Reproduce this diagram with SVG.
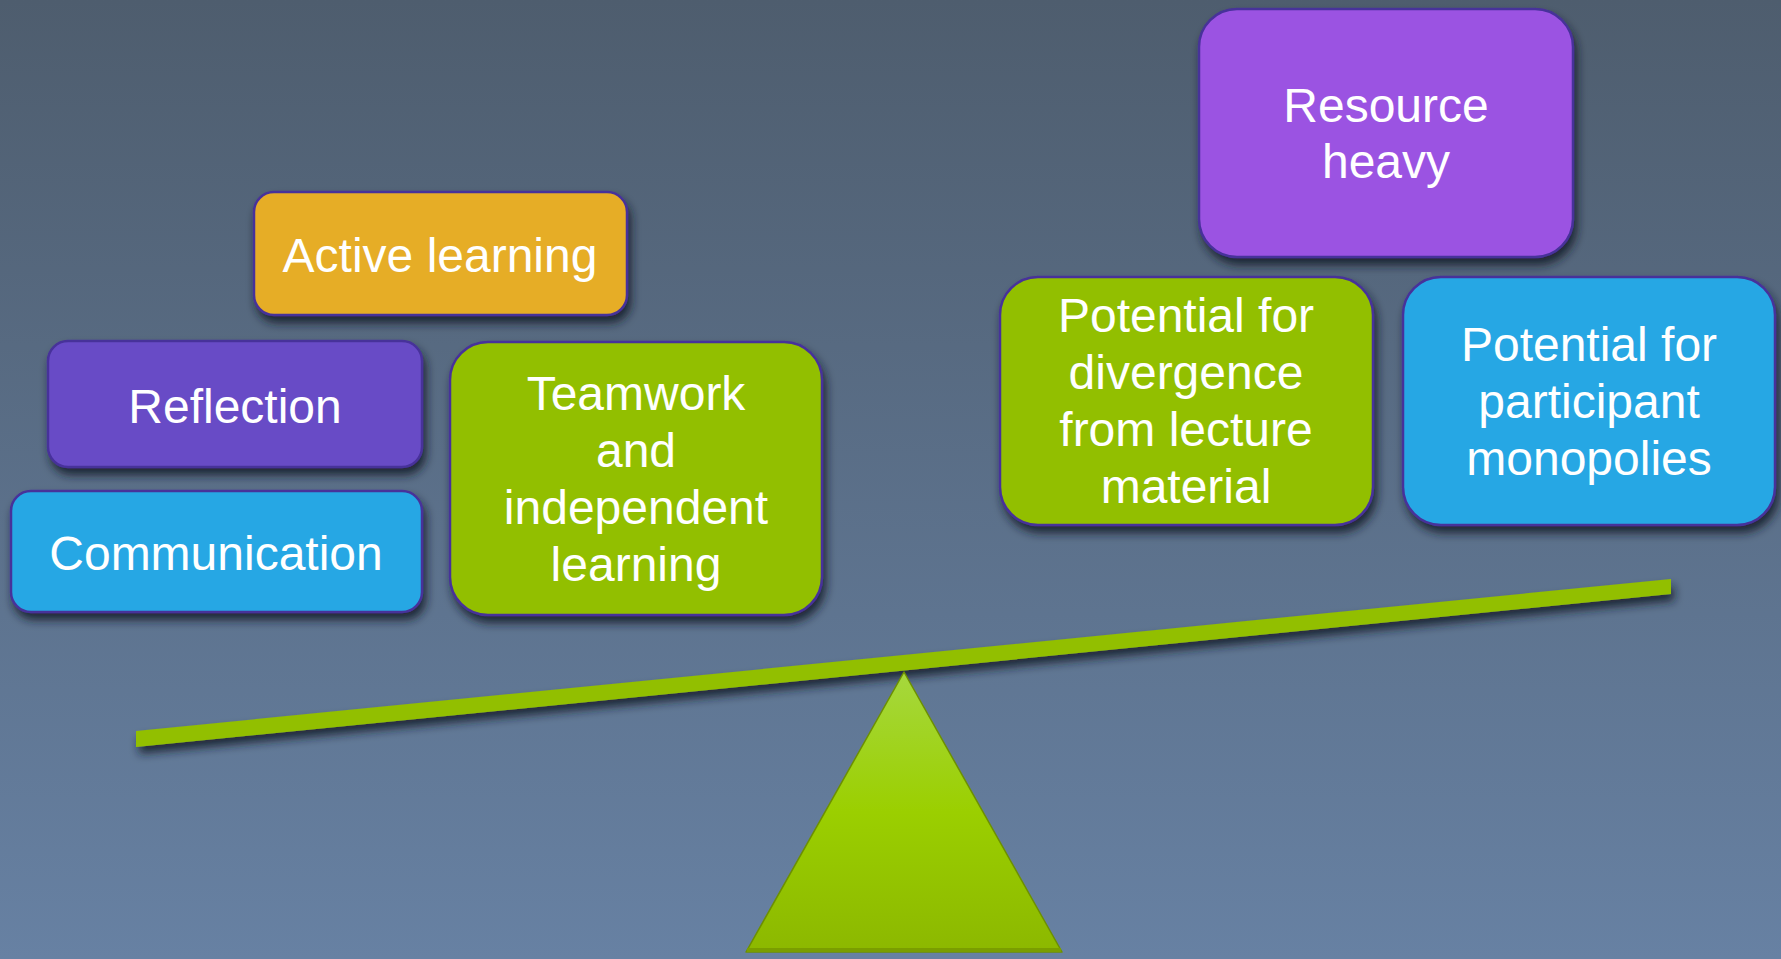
<svg xmlns="http://www.w3.org/2000/svg" width="1781" height="959" viewBox="0 0 1781 959">
  <defs>
    <linearGradient id="bg" x1="0" y1="0" x2="0" y2="1">
      <stop offset="0" stop-color="#4e5d6e"/>
      <stop offset="1" stop-color="#6781a3"/>
    </linearGradient>
    <linearGradient id="fulcrum" x1="0" y1="0" x2="0" y2="1">
      <stop offset="0" stop-color="#a6d83e"/>
      <stop offset="0.5" stop-color="#9bcf00"/>
      <stop offset="1" stop-color="#8cb800"/>
    </linearGradient>
    <filter id="shadow" x="-10%" y="-10%" width="130%" height="140%">
      <feGaussianBlur in="SourceAlpha" stdDeviation="5"/>
      <feOffset dx="3" dy="7" result="blur"/>
      <feFlood flood-color="#161d29" flood-opacity="0.85"/>
      <feComposite in2="blur" operator="in"/>
      <feMerge>
        <feMergeNode/>
        <feMergeNode in="SourceGraphic"/>
      </feMerge>
    </filter>
  </defs>
  <style>
    .box { stroke: #47309a; stroke-width: 2.5; filter: url(#shadow); }
    .label { font-family: "Liberation Sans", Arial, sans-serif; font-size: 48px; fill: #ffffff; text-anchor: middle; }
    .orange { fill: #e6ad27; }
    .violet { fill: #684bc6; }
    .blue { fill: #27a7e4; }
    .green { fill: #92bf00; }
    .purple { fill: #9b53e2; }
  </style>

  <rect x="0" y="0" width="1781" height="959" fill="url(#bg)"/>

  <!-- seesaw: beam and fulcrum -->
  <g id="seesaw">
    <polygon points="136,731 1671,579 1671,594 136,747" fill="#92bf00" filter="url(#shadow)"/>
    <polygon points="904,672 1062,952 746,952" fill="url(#fulcrum)" stroke="#6d9000" stroke-width="1.5" stroke-linejoin="round"/>
    <rect x="747" y="948" width="314" height="4" fill="#7a9e00"/>
  </g>

  <!-- left side: benefits -->
  <g id="active-learning">
    <rect class="box orange" x="254" y="192" width="373" height="123" rx="20"/>
    <text class="label" x="440" y="272">Active learning</text>
  </g>
  <g id="reflection">
    <rect class="box violet" x="48" y="341" width="374" height="126" rx="20"/>
    <text class="label" x="235" y="423">Reflection</text>
  </g>
  <g id="communication">
    <rect class="box blue" x="11" y="491" width="411" height="121" rx="20"/>
    <text class="label" x="216" y="570">Communication</text>
  </g>
  <g id="teamwork">
    <rect class="box green" x="450" y="342" width="372" height="273" rx="38"/>
    <text class="label" x="636" y="410">Teamwork</text>
    <text class="label" x="636" y="467">and</text>
    <text class="label" x="636" y="524">independent</text>
    <text class="label" x="636" y="581">learning</text>
  </g>

  <!-- right side: drawbacks -->
  <g id="resource-heavy">
    <rect class="box purple" x="1199" y="9" width="374" height="248" rx="38"/>
    <text class="label" x="1386" y="122">Resource</text>
    <text class="label" x="1386" y="178">heavy</text>
  </g>
  <g id="divergence">
    <rect class="box green" x="1000" y="277" width="373" height="248" rx="38"/>
    <text class="label" x="1186" y="332">Potential for</text>
    <text class="label" x="1186" y="389">divergence</text>
    <text class="label" x="1186" y="446">from lecture</text>
    <text class="label" x="1186" y="503">material</text>
  </g>
  <g id="monopolies">
    <rect class="box blue" x="1403" y="277" width="372" height="248" rx="38"/>
    <text class="label" x="1589" y="361">Potential for</text>
    <text class="label" x="1589" y="418">participant</text>
    <text class="label" x="1589" y="475">monopolies</text>
  </g>
</svg>
